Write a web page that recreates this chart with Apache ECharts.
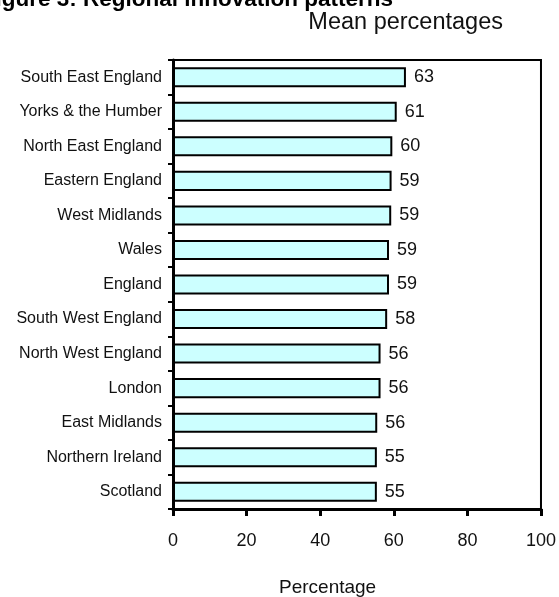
<!DOCTYPE html>
<html><head><meta charset="utf-8">
<script src="https://cdn.jsdelivr.net/npm/echarts@6/dist/echarts.min.js"></script>
<style>html,body{margin:0;padding:0;background:#fff}#c{width:559px;height:597px}</style>
</head><body><div id="c"></div>
<script>
var categories = ["South East England","Yorks & the Humber","North East England","Eastern England","West Midlands","Wales","England","South West England","North West England","London","East Midlands","Northern Ireland","Scotland"];
var values = [63.3, 60.8, 59.6, 59.4, 59.3, 58.7, 58.7, 58.2, 56.4, 56.4, 55.5, 55.4, 55.4];
var xTicks = [0, 20, 40, 60, 80, 100];
var titleText = "Figure 3: Regional innovation patterns";
var subtitleText = "Mean percentages";
var xAxisName = "Percentage";

var font = "Liberation Sans, Arial, sans-serif";
var chart = echarts.init(document.getElementById('c'), null, {renderer: 'canvas'});
chart.setOption({
  animation: false,
  backgroundColor: '#fff',
  grid: {left: 173, right: 18, top: 60, bottom: 88, show: true, borderColor: '#000', borderWidth: 2, backgroundColor: 'transparent'},
  graphic: [
    {type: 'text', right: 166, top: -12, style: {text: titleText, font: 'bold 22.5px ' + font, fill: '#000'}},
    {type: 'text', right: 56, top: 11, style: {text: subtitleText, font: '23.5px ' + font, fill: '#111'}},
    {type: 'text', left: 279, top: 578, style: {text: xAxisName, font: '19px ' + font, fill: '#111'}}
  ],
  xAxis: {
    type: 'value', min: xTicks[0], max: xTicks[xTicks.length - 1], interval: xTicks[1] - xTicks[0],
    axisLine: {show: true, lineStyle: {color: '#000', width: 3}},
    axisTick: {show: true, length: 7, lineStyle: {color: '#000', width: 3}},
    axisLabel: {fontSize: 18, fontFamily: font, color: '#111', margin: 23},
    splitLine: {show: false}
  },
  yAxis: {
    type: 'category', data: categories, inverse: true,
    axisLine: {show: true, lineStyle: {color: '#000', width: 3}},
    axisTick: {show: true, length: 5, lineStyle: {color: '#000', width: 2}},
    axisLabel: {fontSize: 16, fontFamily: font, color: '#111', margin: 11}
  },
  series: [{
    type: 'bar', data: values, barCategoryGap: '42%',
    itemStyle: {color: '#CCFFFF', borderColor: '#000', borderWidth: 2},
    label: {show: true, position: 'right', distance: 8, fontSize: 18, fontFamily: font, color: '#111',
      formatter: function (p) { return Math.round(p.value); }}
  }]
});
</script></body></html>
